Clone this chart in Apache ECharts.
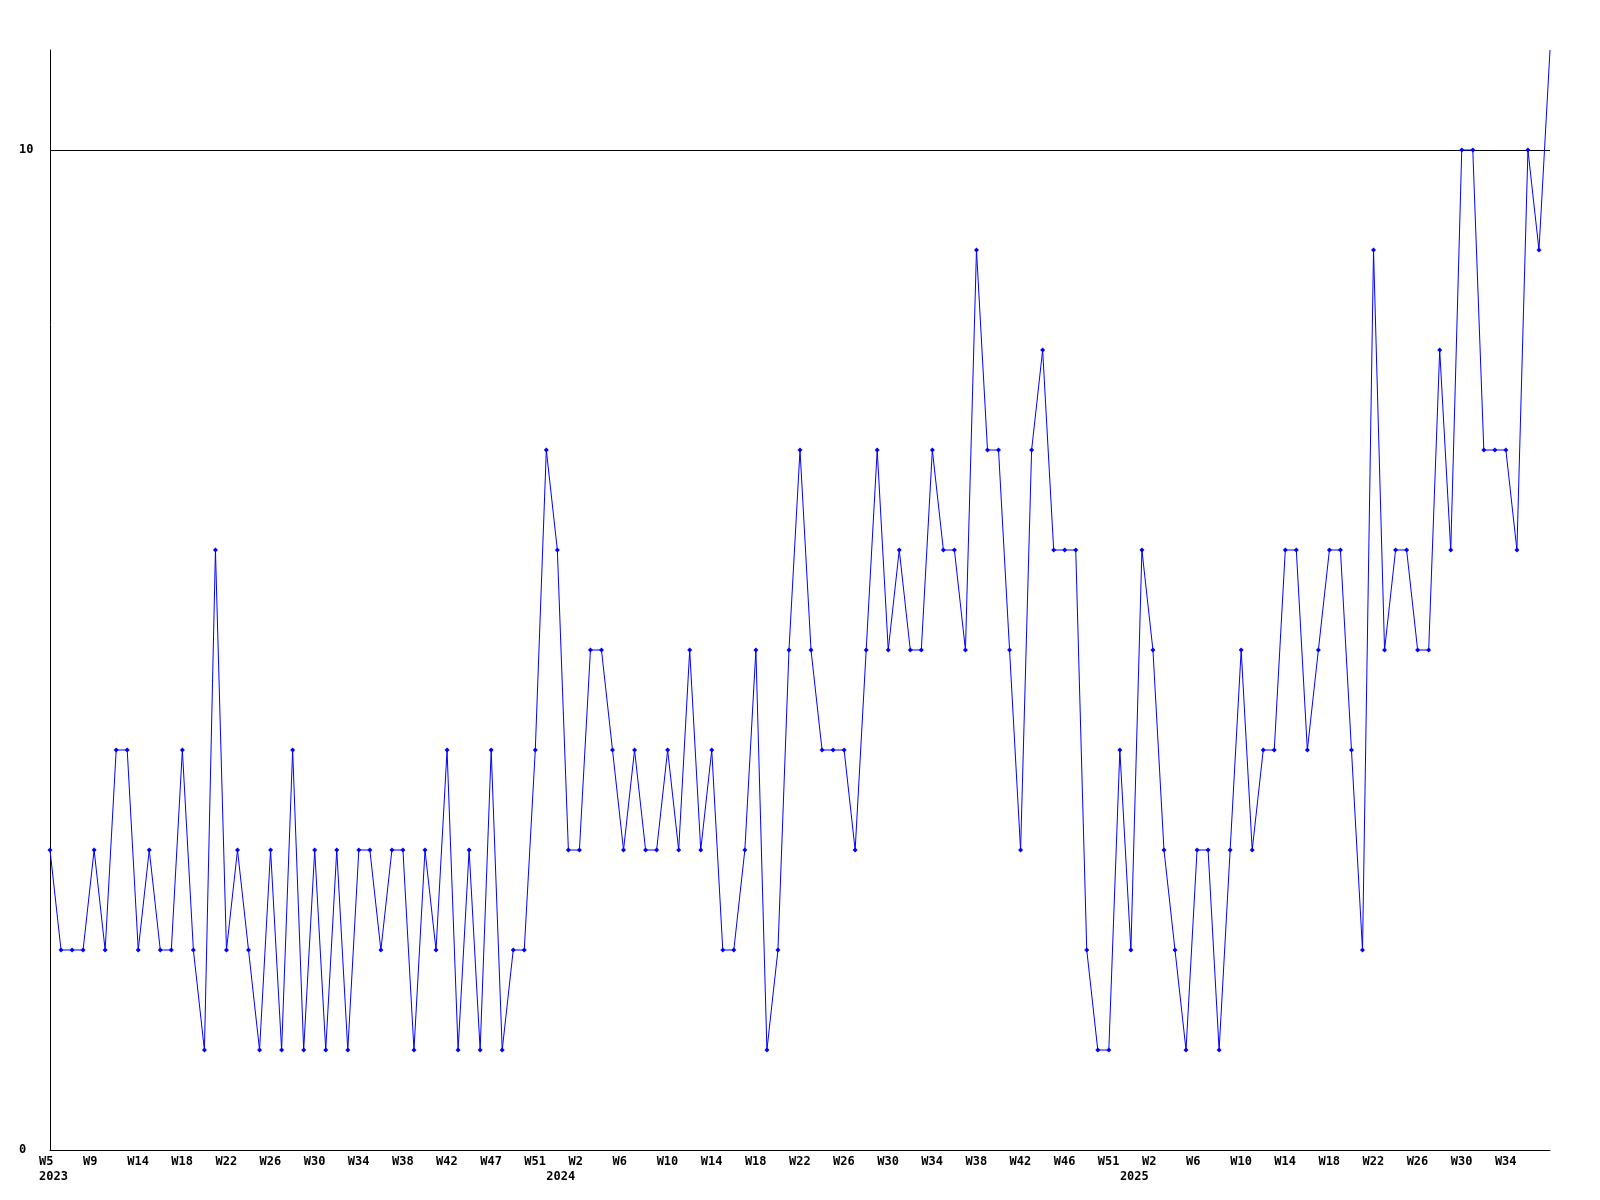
<!DOCTYPE html>
<html>
<head>
<meta charset="utf-8">
<script src="https://cdn.jsdelivr.net/npm/echarts@6/dist/echarts.min.js"></script>
<style>
  html, body { margin: 0; padding: 0; background: #fff; }
  #chart { width: 1600px; height: 1200px; }
</style>
</head>
<body>
<div id="chart"></div>
<script>
// weekly counts, one per point, from W5 2023 onwards
const values = [
  3, 2, 2, 2, 3, 2, 4, 4, 2, 3, 2, 2, 4, 2, 1, 6, 2, 3, 2, 1,
  3, 1, 4, 1, 3, 1, 3, 1, 3, 3, 2, 3, 3, 1, 3, 2, 4, 1, 3, 1,
  4, 1, 2, 2, 4, 7, 6, 3, 3, 5, 5, 4, 3, 4, 3, 3, 4, 3, 5, 3,
  4, 2, 2, 3, 5, 1, 2, 5, 7, 5, 4, 4, 4, 3, 5, 7, 5, 6, 5, 5,
  7, 6, 6, 5, 9, 7, 7, 5, 3, 7, 8, 6, 6, 6, 2, 1, 1, 4, 2, 6,
  5, 3, 2, 1, 3, 3, 1, 3, 5, 3, 4, 4, 6, 6, 4, 5, 6, 6, 4, 2,
  9, 5, 6, 6, 5, 5, 8, 6, 10, 10, 7, 7, 7, 6, 10, 9, 11
];

// tick labels on the time axis (point index -> text)
const weekTickIdx = [0, 4, 8, 12, 16, 20, 24, 28, 32, 36, 40, 44, 48, 52, 56, 60, 64,
  68, 72, 76, 80, 84, 88, 92, 96, 100, 104, 108, 112, 116, 120, 124, 128, 132];
const weekTickText = ['W5', 'W9', 'W14', 'W18', 'W22', 'W26', 'W30', 'W34', 'W38', 'W42',
  'W47', 'W51', 'W2', 'W6', 'W10', 'W14', 'W18', 'W22', 'W26', 'W30', 'W34', 'W38',
  'W42', 'W46', 'W51', 'W2', 'W6', 'W10', 'W14', 'W18', 'W22', 'W26', 'W30', 'W34'];
const yearTickIdx = [0, 46, 98];
const yearTickText = ['2023', '2024', '2025'];

const categories = values.map((v, i) => String(i));
const weekMap = {};
weekTickIdx.forEach((idx, k) => { weekMap[idx] = weekTickText[k]; });
const yearMap = {};
yearTickIdx.forEach((idx, k) => { yearMap[idx] = yearTickText[k]; });

// last point sits on the top edge, its marker is cut off there
const seriesData = values.map((v, i) =>
  i === values.length - 1 ? { value: v, symbol: 'none' } : v);

const font = {
  fontFamily: '"DejaVu Sans Mono", monospace',
  fontWeight: 'bold',
  fontSize: 12,
  color: '#000'
};

const chart = echarts.init(document.getElementById('chart'));
chart.setOption({
  animation: false,
  backgroundColor: '#fff',
  grid: { left: 50, right: 50, top: 50, bottom: 50 },
  xAxis: [
    {
      type: 'category',
      data: categories,
      boundaryGap: false,
      axisLine: { show: true, lineStyle: { color: '#000', width: 1 } },
      axisTick: { show: false },
      splitLine: { show: false },
      axisLabel: Object.assign({
        interval: (i) => weekMap[i] !== undefined,
        formatter: (v, i) => weekMap[i] || '',
        align: 'left',
        padding: [0, 0, 0, -11],
        margin: 6,
        hideOverlap: false
      }, font)
    },
    {
      type: 'category',
      data: categories,
      boundaryGap: false,
      position: 'bottom',
      offset: 15,
      axisLine: { show: false },
      axisTick: { show: false },
      splitLine: { show: false },
      axisLabel: Object.assign({
        interval: (i) => yearMap[i] !== undefined,
        formatter: (v, i) => yearMap[i] || '',
        align: 'left',
        padding: [0, 0, 0, -11],
        margin: 6,
        hideOverlap: false
      }, font)
    }
  ],
  yAxis: {
    type: 'value',
    min: 0,
    max: 11,
    interval: 10,
    axisLine: { show: true, lineStyle: { color: '#000', width: 1 } },
    axisTick: { show: false },
    splitLine: { show: true, showMaxLine: false, lineStyle: { color: '#000', width: 1 } },
    axisLabel: Object.assign({
      formatter: (v) => (v === 11 ? '' : String(v)),
      align: 'left',
      margin: 31,
      padding: [3, 0, 0, 0],
      showMaxLabel: false
    }, font)
  },
  series: [
    {
      type: 'line',
      data: seriesData,
      xAxisIndex: 0,
      symbol: 'diamond',
      symbolSize: 5,
      showAllSymbol: true,
      lineStyle: { color: '#0000ff', width: 1 },
      itemStyle: { color: '#0000ff' },
      emphasis: { disabled: true }
    }
  ]
});
</script>
</body>
</html>
